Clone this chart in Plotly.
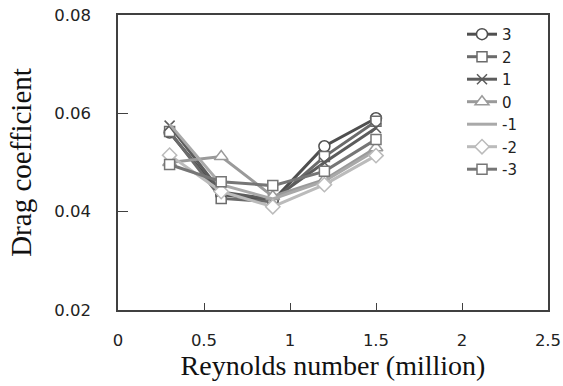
import plotly.graph_objects as go

reynolds = [0.3, 0.6, 0.9, 1.2, 1.5]
series_names = ["3", "2", "1", "0", "-1", "-2", "-3"]
cd_p3 = [0.0561, 0.0435, 0.0422, 0.0533, 0.0590]
cd_p2 = [0.0563, 0.0427, 0.0420, 0.0512, 0.0584]
cd_p1 = [0.0575, 0.0440, 0.0425, 0.0500, 0.0570]
cd_0 = [0.0500, 0.0512, 0.0431, 0.0465, 0.0530]
cd_m1 = [0.0578, 0.0455, 0.0426, 0.0462, 0.0525]
cd_m2 = [0.0515, 0.0441, 0.0410, 0.0455, 0.0514]
cd_m3 = [0.0496, 0.0461, 0.0453, 0.0482, 0.0547]
all_values = [cd_p3, cd_p2, cd_p1, cd_0, cd_m1, cd_m2, cd_m3]

styles = [
    dict(color="#4f4f4f", symbol="circle", size=11),
    dict(color="#6b6b6b", symbol="square", size=10),
    dict(color="#5c5c5c", symbol="x-thin", size=10),
    dict(color="#9a9a9a", symbol="triangle-up", size=12),
    dict(color="#a9a9a9", symbol=None, size=0),
    dict(color="#bbbbbb", symbol="diamond", size=11),
    dict(color="#767676", symbol="square", size=10),
]

fig = go.Figure()
for name, vals, st in zip(series_names, all_values, styles):
    if st["symbol"] is None:
        fig.add_trace(go.Scatter(x=reynolds, y=vals, name=name, mode="lines",
                                 line=dict(color=st["color"], width=3)))
    else:
        marker = dict(symbol=st["symbol"], size=st["size"],
                      color="white" if st["symbol"] != "x-thin" else st["color"],
                      line=dict(color=st["color"], width=1.5))
        fig.add_trace(go.Scatter(x=reynolds, y=vals, name=name, mode="lines+markers",
                                 line=dict(color=st["color"], width=3), marker=marker))

axis_common = dict(showline=True, linecolor="#404040", linewidth=1.5, mirror=True,
                   ticks="inside", tickcolor="#404040", showgrid=False, zeroline=False,
                   automargin=False,
                   tickfont=dict(family="DejaVu Sans", size=16.5, color="#222"))

fig.update_xaxes(range=[0, 2.5], dtick=0.5, tick0=0, ticklen=7, ticklabelstandoff=14,
                 title=dict(text="Reynolds number (million)", standoff=1,
                            font=dict(family="Liberation Serif", size=28, color="#111")),
                 **axis_common)
fig.update_yaxes(range=[0.02, 0.08], dtick=0.02, tick0=0.02, ticklen=10, ticklabelstandoff=22,
                 tickformat=".2f",
                 title=dict(text="Drag coefficient", standoff=14,
                            font=dict(family="Liberation Serif", size=29, color="#111")),
                 **axis_common)

fig.update_layout(
    width=563, height=386,
    margin=dict(l=118, r=15, t=15, b=76, autoexpand=False),
    plot_bgcolor="white", paper_bgcolor="white",
    legend=dict(x=0.80, y=0.99, xanchor="left", yanchor="top", bgcolor="rgba(0,0,0,0)",
                font=dict(family="DejaVu Sans", size=15, color="#222"),
                itemwidth=30, tracegroupgap=0),
)

fig.write_html("out.html", config={"displayModeBar": False},
               post_script="document.body.style.margin='0';document.body.style.padding='0';")
